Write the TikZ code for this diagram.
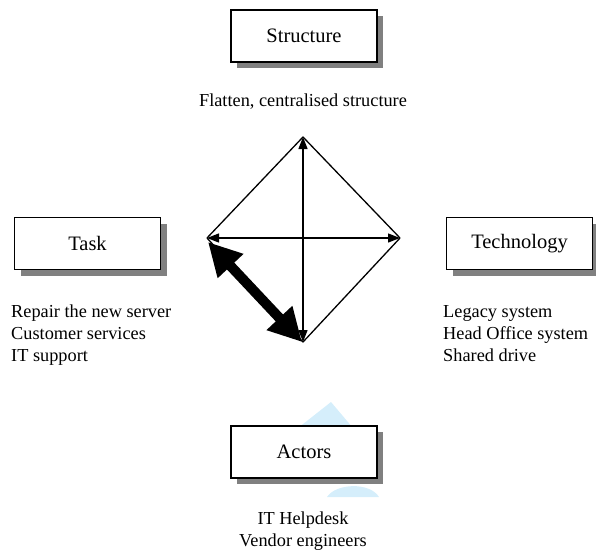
\documentclass[tikz,border=0pt]{standalone}
\usepackage{fontspec}
\setmainfont{Liberation Serif}
\usetikzlibrary{arrows.meta,shadows}
\definecolor{shadowgray}{HTML}{808080}
\definecolor{markblue}{HTML}{D5EEFB}
\begin{document}
\begin{tikzpicture}[x=1pt,y=-1pt,
  box/.style={draw=black, line width=1.5pt, fill=white,
    minimum width=146pt, minimum height=52pt, inner sep=0pt,
    font=\fontsize{20.5}{24}\selectfont,
    general shadow={shadow xshift=6pt, shadow yshift=-6pt, fill=shadowgray, draw=none}},
  note/.style={inner sep=0pt, font=\fontsize{18.3}{22}\selectfont},
  rim/.style={line width=1.3pt, line join=round},
  link/.style={line width=1.3pt, {Triangle[length=12pt,width=9pt]}-{Triangle[length=12pt,width=9pt]}},
  bond/.style={line width=10pt, {Triangle[length=33pt,width=33pt]}-{Triangle[length=33pt,width=33pt]}}]

% page frame
\path[use as bounding box] (0,0) rectangle (596,554);
\clip (0,0) rectangle (596,554);

% faint blue marks behind the Actors box
\fill[markblue] (331,402) -- (353,428) -- (298,428) -- cycle;
\fill[markblue] (327,497) .. controls (336,483) and (370,482) .. (379,497) -- cycle;

% the four corner boxes
\node[box] (structure) at (304,36) {Structure};
\node[box] (task) at (87.5,243.5) {Task};
\node[box] (technology) at (519.5,243.5) {Technology};
\node[box] (actors) at (304,452) {Actors};

% notes under each box
\node[note, anchor=base] (flatten) at (303,106) {Flatten, centralised structure};
\node[note, anchor=north west, align=left] (tasknotes) at (11,305)
  {Repair the new server\\Customer services\\IT support};
\node[note, anchor=north west, align=left] (technotes) at (443,305)
  {Legacy system\\Head Office system\\Shared drive};
\node[note, anchor=north, align=center] (actornotes) at (303,512)
  {IT Helpdesk\\Vendor engineers};

% diamond linking the four components
\coordinate (T) at (303,137);
\coordinate (L) at (207,238);
\coordinate (R) at (400,238);
\coordinate (B) at (303,342);
\draw[rim] (T) -- (R) -- (B) -- (L) -- cycle;
\draw[link] (B) -- (T);
\draw[link] (L) -- (R);

% strong task--actors relation
\coordinate (bondA) at (208,242);
\coordinate (bondB) at (302,342);
\draw[bond] (bondA) -- (bondB);
\end{tikzpicture}
\end{document}
